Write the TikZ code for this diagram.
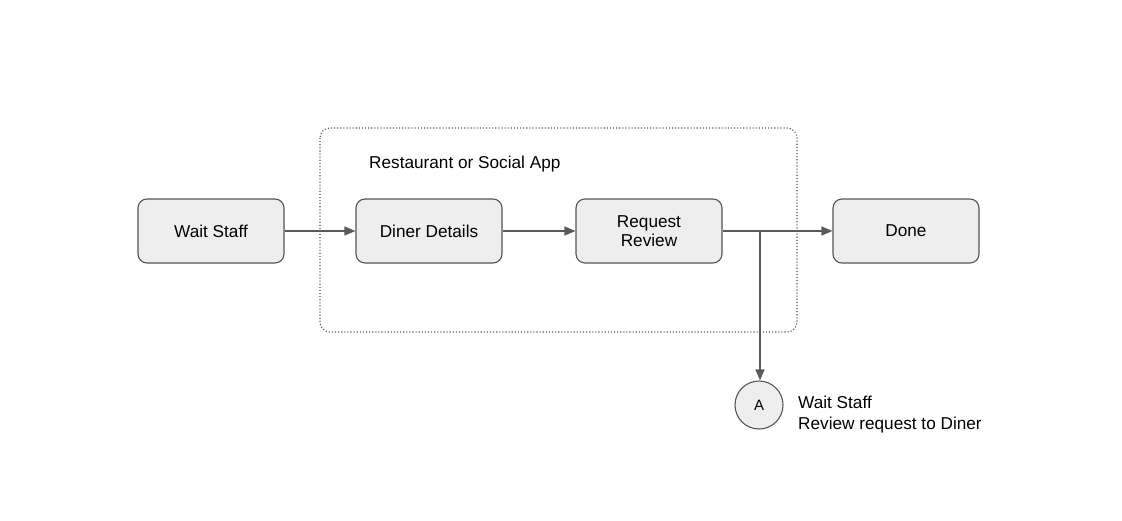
\documentclass[tikz,border=0pt]{standalone}
\usepackage{fontspec}
\setmainfont{Liberation Sans}
\usetikzlibrary{arrows.meta,positioning}
\definecolor{boxfill}{HTML}{EEEEEE}
\definecolor{boxline}{HTML}{555555}
\definecolor{wire}{HTML}{5A5A5A}
\begin{document}
\begin{tikzpicture}[x=1pt,y=-1pt,
  stepbox/.style={draw=boxline,fill=boxfill,rounded corners=9pt,line width=1.1pt,
    minimum width=146pt,minimum height=64pt,align=center,font=\fontsize{17.2}{20.5}\selectfont},
  wirearrow/.style={draw=wire,line width=1.2pt,-{Triangle[length=11pt,width=9pt]}},
  lbl/.style={font=\fontsize{17.2}{21}\selectfont,inner sep=0pt}]
\useasboundingbox (0,0) rectangle (1122,520);
\pgfmathsetmacro{\rowy}{231};
% app frame
\draw[boxline,dotted,line width=1.1pt,rounded corners=10pt] (320,128) rectangle (797,332);
\node[lbl,anchor=west] (applbl) at (369,164) {Restaurant or Social App};
% main row
\node[stepbox] (wait) at (211,\rowy) {Wait Staff};
\node[stepbox] (diner) at (429,\rowy) {Diner Details};
\node[stepbox] (review) at (649,\rowy) {Request\\[-1pt]Review};
\node[stepbox] (done) at (906,\rowy) {Done};
\draw[wirearrow] (wait) -- (diner);
\draw[wirearrow] (diner) -- (review);
\draw[wirearrow] (review) -- (done);
% branch to note A
\coordinate (split) at (760,\rowy);
\node[circle,draw=boxline,fill=boxfill,line width=1.1pt,minimum size=48pt,inner sep=0pt,
  font=\fontsize{15}{17}\selectfont] (noteA) at (759,405) {A};
\draw[wirearrow] (split) -- (split |- noteA.north);
\node[lbl,anchor=north west,align=left] (notetxt) at (798,396) {Wait Staff\\Review request to Diner};
\end{tikzpicture}
\end{document}
